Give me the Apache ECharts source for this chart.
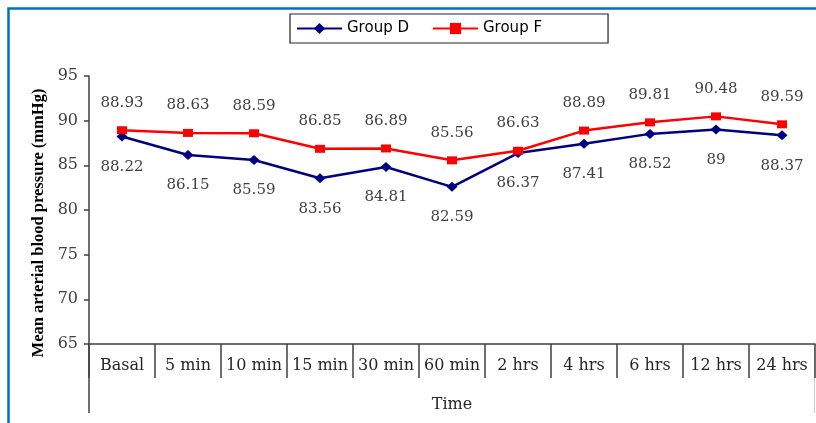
<!DOCTYPE html>
<html>
<head>
<meta charset="utf-8">
<script src="https://cdn.jsdelivr.net/npm/echarts@6/dist/echarts.min.js"></script>
<style>
  html, body { margin: 0; padding: 0; background: #fff; }
  #chart { width: 816px; height: 423px; }
</style>
</head>
<body>
<div id="chart"></div>
<script>
// Time points after drug administration
const categories = ['Basal', '5 min', '10 min', '15 min', '30 min', '60 min', '2 hrs', '4 hrs', '6 hrs', '12 hrs', '24 hrs'];
// Mean arterial blood pressure (mmHg) per group
const groupD = [88.22, 86.15, 85.59, 83.56, 84.81, 82.59, 86.37, 87.41, 88.52, 89, 88.37];
const groupF = [88.93, 88.63, 88.59, 86.85, 86.89, 85.56, 86.63, 88.89, 89.81, 90.48, 89.59];
const yMin = 65, yMax = 95, yStep = 5;

// Plot area geometry
const G = { left: 89, top: 76, right: 1, bottom: 79 };
const W = 816, H = 423;
const axisY = H - G.bottom;
const axisColor = '#404040';
const serif = '"DejaVu Serif", serif';

const chart = echarts.init(document.getElementById('chart'), null, { renderer: 'canvas' });

chart.setOption({
  backgroundColor: '#ffffff',
  animation: false,
  legend: {
    left: 290,
    top: 14,
    padding: [7, 66, 7, 6],
    borderColor: '#222',
    borderWidth: 1.2,
    itemWidth: 45,
    itemHeight: 14,
    itemGap: 23,
    textStyle: { fontFamily: '"DejaVu Sans", sans-serif', fontSize: 15, color: '#000' },
    data: ['Group D', 'Group F']
  },
  grid: { left: G.left, top: G.top, right: G.right, bottom: G.bottom, containLabel: false },
  xAxis: {
    type: 'category',
    data: categories,
    boundaryGap: true,
    name: 'Time',
    nameLocation: 'middle',
    nameGap: 53,
    nameTextStyle: { fontFamily: serif, fontSize: 16, color: '#262626' },
    axisLine: { show: true, lineStyle: { color: axisColor, width: 1.5 } },
    axisTick: { show: true, inside: false, length: 34, alignWithLabel: false, lineStyle: { color: axisColor, width: 1.5 } },
    axisLabel: { margin: 14, interval: 0, fontFamily: serif, fontSize: 16, color: '#262626' },
    splitLine: { show: false }
  },
  yAxis: {
    type: 'value',
    min: yMin,
    max: yMax,
    interval: yStep,
    name: 'Mean arterial blood pressure (mmHg)',
    nameLocation: 'middle',
    nameGap: 42,
    nameTextStyle: {
      fontFamily: '"Liberation Serif", serif', fontWeight: 'bold', fontSize: 16.5, color: '#000',
      padding: [0, 26, 0, 0]
    },
    axisLine: { show: true, lineStyle: { color: axisColor, width: 1.5 } },
    axisTick: { show: true, inside: false, length: 5, lineStyle: { color: axisColor, width: 1.5 } },
    axisLabel: { margin: 11, fontFamily: serif, fontSize: 16, color: '#404040' },
    splitLine: { show: false }
  },
  series: [
    {
      name: 'Group D',
      type: 'line',
      data: groupD,
      symbol: 'diamond',
      symbolSize: [11, 10],
      lineStyle: { color: '#000080', width: 2.5 },
      itemStyle: { color: '#000080' },
      label: { show: true, position: 'bottom', distance: 18, fontFamily: serif, fontSize: 15, color: '#404040' },
      z: 3
    },
    {
      name: 'Group F',
      type: 'line',
      data: groupF,
      symbol: 'rect',
      symbolSize: [10, 8],
      lineStyle: { color: '#ff0000', width: 2.5 },
      itemStyle: { color: '#ff0000' },
      label: { show: true, position: 'top', distance: 16, fontFamily: serif, fontSize: 15, color: '#404040' },
      z: 4
    }
  ],
  graphic: [
    // frame around the figure
    { type: 'polyline', silent: true, shape: { points: [[8.5, H + 5], [8.5, 8.5], [W + 5, 8.5]] },
      style: { stroke: '#0070c0', lineWidth: 2.5, fill: null } },
    // value axis continues down past the category row
    { type: 'line', silent: true, shape: { x1: G.left, y1: axisY, x2: G.left, y2: axisY + 69 },
      style: { stroke: axisColor, lineWidth: 1.5 } },
    // faint right edge of the category row
    { type: 'line', silent: true, shape: { x1: W - G.right - 0.5, y1: axisY, x2: W - G.right - 0.5, y2: axisY + 69 },
      style: { stroke: '#c8c8c8', lineWidth: 1 } }
  ]
});
</script>
</body>
</html>
